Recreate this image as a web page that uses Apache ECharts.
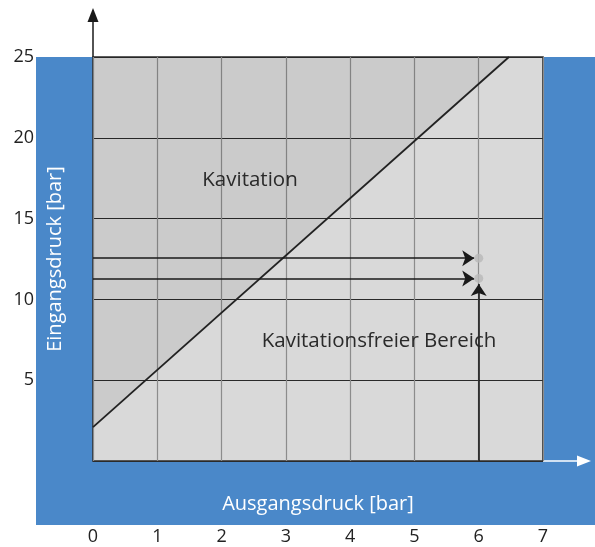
<!DOCTYPE html>
<html><head><meta charset="utf-8">
<script src="https://cdn.jsdelivr.net/npm/echarts@6/dist/echarts.min.js"></script>
<style>html,body{margin:0;padding:0;background:#fff}#c{width:595px;height:547px}</style>
</head><body><div id="c"></div>
<script>
var xTicks = [0,1,2,3,4,5,6,7];
var yTicks = [0,5,10,15,20,25];
var limitLine = [[0,2.1],[6.47,25]];
var arrowUpper = [[0,12.55],[5.93,12.55]];
var arrowLower = [[0,11.3],[5.93,11.3]];
var arrowVertical = [[6,0],[6,10.95]];
var dots = [[6,12.55],[6,11.3]];
var labelCavitation = 'Kavitation';
var labelFree = 'Kavitationsfreier Bereich';

var chart = echarts.init(document.getElementById('c'), null, {renderer:'canvas'});
var font = '"Open Sans", "Noto Sans", sans-serif';
function arrowSeries(pts){
  return {type:'lines', coordinateSystem:'cartesian2d', z:5,
    symbol:['none','arrow'], symbolSize:[0,12],
    lineStyle:{color:'#1a1a1a', width:1.6, opacity:1},
    data:[{coords:pts}], silent:true};
}
chart.setOption({
  animation:false,
  backgroundColor:'#fff',
  graphic:[
    {type:'rect', z:-100, shape:{x:36,y:57,width:559,height:468}, style:{fill:'#4a88c9'}},
    {type:'line', shape:{x1:93,y1:57,x2:93,y2:20}, style:{stroke:'#1a1a1a', lineWidth:1.5}},
    {type:'polygon', shape:{points:[[93,8],[87.5,22],[98.5,22]]}, style:{fill:'#1a1a1a'}},
    {type:'line', shape:{x1:543,y1:461,x2:578,y2:461}, style:{stroke:'#fff', lineWidth:1.5}},
    {type:'polygon', shape:{points:[[591,461],[577,455.5],[577,466.5]]}, style:{fill:'#fff'}},
    {type:'text', z:10, style:{text:labelCavitation, x:250, y:180, align:'center', verticalAlign:'middle', font:'20.5px '+font, fill:'#2a2a2a'}},
    {type:'text', z:10, style:{text:labelFree, x:379, y:341, align:'center', verticalAlign:'middle', font:'20.5px '+font, fill:'#2a2a2a'}}
  ],
  grid:{left:93, right:52, top:57, bottom:86, containLabel:false, outerBoundsMode:'none',
    show:true, backgroundColor:'#d9d9d9', borderColor:'#2a2a2a', borderWidth:1.6},
  xAxis:{type:'value', min:xTicks[0], max:xTicks[xTicks.length-1], interval:1,
    name:'Ausgangsdruck [bar]', nameLocation:'middle', nameGap:33, nameMoveOverlap:false,
    nameTextStyle:{color:'#fff', fontSize:20, fontFamily:font},
    axisLine:{show:false}, axisTick:{show:false},
    axisLabel:{margin:67, color:'#222', fontSize:18, fontFamily:font},
    splitLine:{show:true, lineStyle:{color:'#8c8c8c', width:1.2}}},
  yAxis:{type:'value', min:yTicks[0], max:yTicks[yTicks.length-1], interval:5,
    name:'Eingangsdruck [bar]', nameLocation:'middle', nameGap:28, nameRotate:90, nameMoveOverlap:false,
    nameTextStyle:{color:'#fff', fontSize:20, fontFamily:font},
    axisLine:{show:false}, axisTick:{show:false},
    axisLabel:{margin:59, color:'#222', fontSize:18, fontFamily:font, showMinLabel:false,
      formatter:function(v){return v===0?'':String(v);}},
    splitLine:{show:true, lineStyle:{color:'#2a2a2a', width:1.2}}},
  series:[
    {type:'line', data:limitLine, symbol:'none', z:3,
      lineStyle:{color:'#222', width:1.8},
      areaStyle:{origin:'end', color:'rgba(0,0,0,0.09)'}},
    arrowSeries(arrowUpper),
    arrowSeries(arrowLower),
    arrowSeries(arrowVertical),
    {type:'scatter', data:dots, symbol:'circle', symbolSize:9, z:6,
      itemStyle:{color:'#b8b8b8'}}
  ]
});
</script></body></html>
